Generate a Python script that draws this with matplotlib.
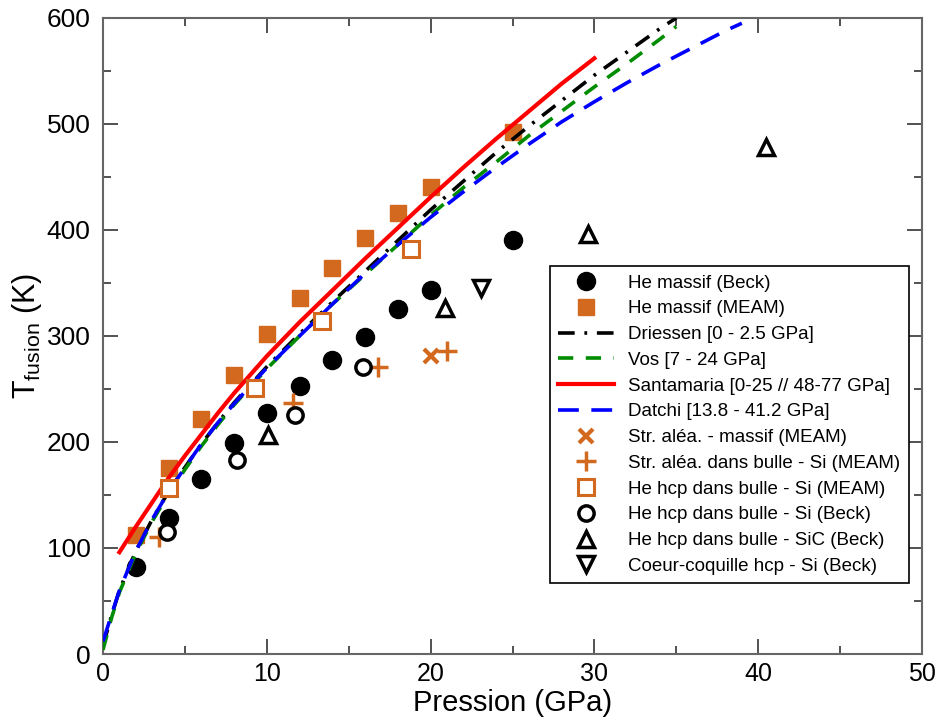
import matplotlib
matplotlib.use('Agg')
import matplotlib.pyplot as plt
from matplotlib.ticker import MultipleLocator

plt.rcParams['font.family'] = ['Liberation Sans', 'DejaVu Sans']
plt.rcParams['mathtext.fontset'] = 'custom'
plt.rcParams['mathtext.rm'] = 'Liberation Sans'
plt.rcParams['lines.scale_dashes'] = False

orange = '#D2691E'

# points (GPa, K)
P_beck = [2, 4, 6, 8, 10, 12, 14, 16, 18, 20, 25]
T_beck = [82, 128, 165, 199, 227, 253, 277, 299, 325, 343, 391]
P_meam = [2, 4, 6, 8, 10, 12, 14, 16, 18, 20, 25]
T_meam = [112, 175, 222, 263, 302, 336, 364, 392, 416, 441, 492]

P_alea_massif = [20.0]
T_alea_massif = [281]
P_alea_bulle = [3.4, 11.6, 16.8, 21.0]
T_alea_bulle = [110, 237, 271, 286]
P_hcp_si_meam = [4.0, 9.3, 13.4, 18.8]
T_hcp_si_meam = [157, 251, 314, 382]
P_hcp_si_beck = [3.9, 8.2, 11.7, 15.9]
T_hcp_si_beck = [115, 183, 225, 271]
P_hcp_sic = [10.1, 20.9, 29.6, 40.5]
T_hcp_sic = [207, 326, 396, 478]
P_coeur = [23.1]
T_coeur = [345]

# courbes de fusion
P_driessen = [0, 0.5, 1, 2, 3, 4, 5, 6, 7, 8, 10, 12, 14, 16, 18, 20, 22, 24, 26, 28, 30, 32, 34, 35]
T_driessen = [8, 35, 60, 97, 127, 153, 176, 198, 218, 237, 271, 302, 332, 361, 390, 419, 446, 473, 498, 522, 546, 568, 590, 600]
P_vos = [0, 0.5, 1, 2, 3, 4, 5, 6, 7, 8, 10, 12, 14, 16, 18, 20, 22, 24, 26, 28, 30, 32, 34, 35]
T_vos = [4, 33, 58, 95, 125, 151, 174, 196, 216, 235, 269, 300, 330, 358, 386, 414, 440, 464, 489, 512, 535, 557, 580, 592]
P_santa = [1, 2, 3, 4, 5, 6, 7, 8, 10, 12, 14, 16, 18, 20, 22, 24, 26, 28, 30]
T_santa = [96, 120, 143, 166, 187, 207, 227, 246, 281, 313, 343, 373, 402, 431, 459, 486, 512, 538, 562]
P_datchi = [0, 0.5, 1, 2, 3, 4, 5, 6, 7, 8, 10, 12, 14, 16, 18, 20, 22, 24, 26, 28, 30, 32, 34, 36, 38, 39]
T_datchi = [12, 36, 60, 97, 127, 153, 176, 198, 218, 236, 270, 300, 330, 359, 386, 412, 436, 459, 481, 502, 521, 539, 556, 572, 588, 595]

fig = plt.figure(figsize=(9.39, 7.19), dpi=100)
ax = fig.add_axes([0.1097, 0.0904, 0.8722, 0.8846])

h_beck, = ax.plot(P_beck, T_beck, 'o', color='black', ms=13, ls='none', label='He massif (Beck)', zorder=2)
h_meam, = ax.plot(P_meam, T_meam, 's', color=orange, ms=12, ls='none', label='He massif (MEAM)', zorder=2)

h_dri, = ax.plot(P_driessen, T_driessen, color='black', lw=2.6, dashes=(12, 7, 2, 7),
                 label='Driessen [0 - 2.5 GPa]', zorder=3)
h_vos, = ax.plot(P_vos, T_vos, color='#008C00', lw=2.6, dashes=(11, 9),
                 label='Vos [7 - 24 GPa]', zorder=3)
h_san, = ax.plot(P_santa, T_santa, color='#FF0000', lw=3,
                 label='Santamaria [0-25 // 48-77 GPa]', zorder=3)
h_dat, = ax.plot(P_datchi, T_datchi, color='#0000FF', lw=2.6, dashes=(15, 9),
                 label='Datchi [13.8 - 41.2 GPa]', zorder=3)

h_x, = ax.plot(P_alea_massif, T_alea_massif, 'x', color=orange, ms=10, mew=3, ls='none',
               label='Str. aléa. - massif (MEAM)', zorder=4)
h_p, = ax.plot(P_alea_bulle, T_alea_bulle, '+', color=orange, ms=14, mew=2.5, ls='none',
               label='Str. aléa. dans bulle - Si (MEAM)', zorder=4)
h_sq, = ax.plot(P_hcp_si_meam, T_hcp_si_meam, 's', mfc='white', mec=orange, ms=11, mew=2.2, ls='none',
                label='He hcp dans bulle - Si (MEAM)', zorder=4)
h_oc, = ax.plot(P_hcp_si_beck, T_hcp_si_beck, 'o', mfc='white', mec='black', ms=11, mew=2.5, ls='none',
                label='He hcp dans bulle - Si (Beck)', zorder=4)
h_tu, = ax.plot(P_hcp_sic, T_hcp_sic, '^', mfc='white', mec='black', ms=11, mew=2.5, ls='none',
                label='He hcp dans bulle - SiC (Beck)', zorder=4)
h_td, = ax.plot(P_coeur, T_coeur, 'v', mfc='white', mec='black', ms=11, mew=2.5, ls='none',
                label='Coeur-coquille hcp - Si (Beck)', zorder=4)

ax.set_xlim(0, 50)
ax.set_ylim(0, 600)
ax.xaxis.set_major_locator(MultipleLocator(10))
ax.xaxis.set_minor_locator(MultipleLocator(5))
ax.yaxis.set_major_locator(MultipleLocator(100))
ax.yaxis.set_minor_locator(MultipleLocator(50))
ax.tick_params(which='both', direction='in', top=True, right=True, width=1.2, color='#333333')
ax.tick_params(which='major', length=11)
ax.tick_params(which='minor', length=6)
ax.tick_params(axis='x', labelsize=18, pad=6)
ax.tick_params(axis='y', labelsize=19, pad=9)
for s in ax.spines.values():
    s.set_color('#666666')
    s.set_linewidth(1.5)

ax.set_xlabel('Pression (GPa)', fontsize=21, labelpad=2)
ax.set_ylabel(r'T$_{\mathrm{fusion}}$ (K)', fontsize=22, labelpad=2)

handles = [h_beck, h_meam, h_dri, h_vos, h_san, h_dat, h_x, h_p, h_sq, h_oc, h_tu, h_td]
leg = ax.legend(handles=handles, loc='upper right', bbox_to_anchor=(0.984, 0.610),
                borderaxespad=0, fontsize=13.5, handlelength=3.0, handletextpad=0.75,
                labelspacing=0.46, borderpad=0.45, fancybox=False, framealpha=1,
                edgecolor='black')
leg.get_frame().set_linewidth(1.2)

fig.savefig('out.png', dpi=100)
